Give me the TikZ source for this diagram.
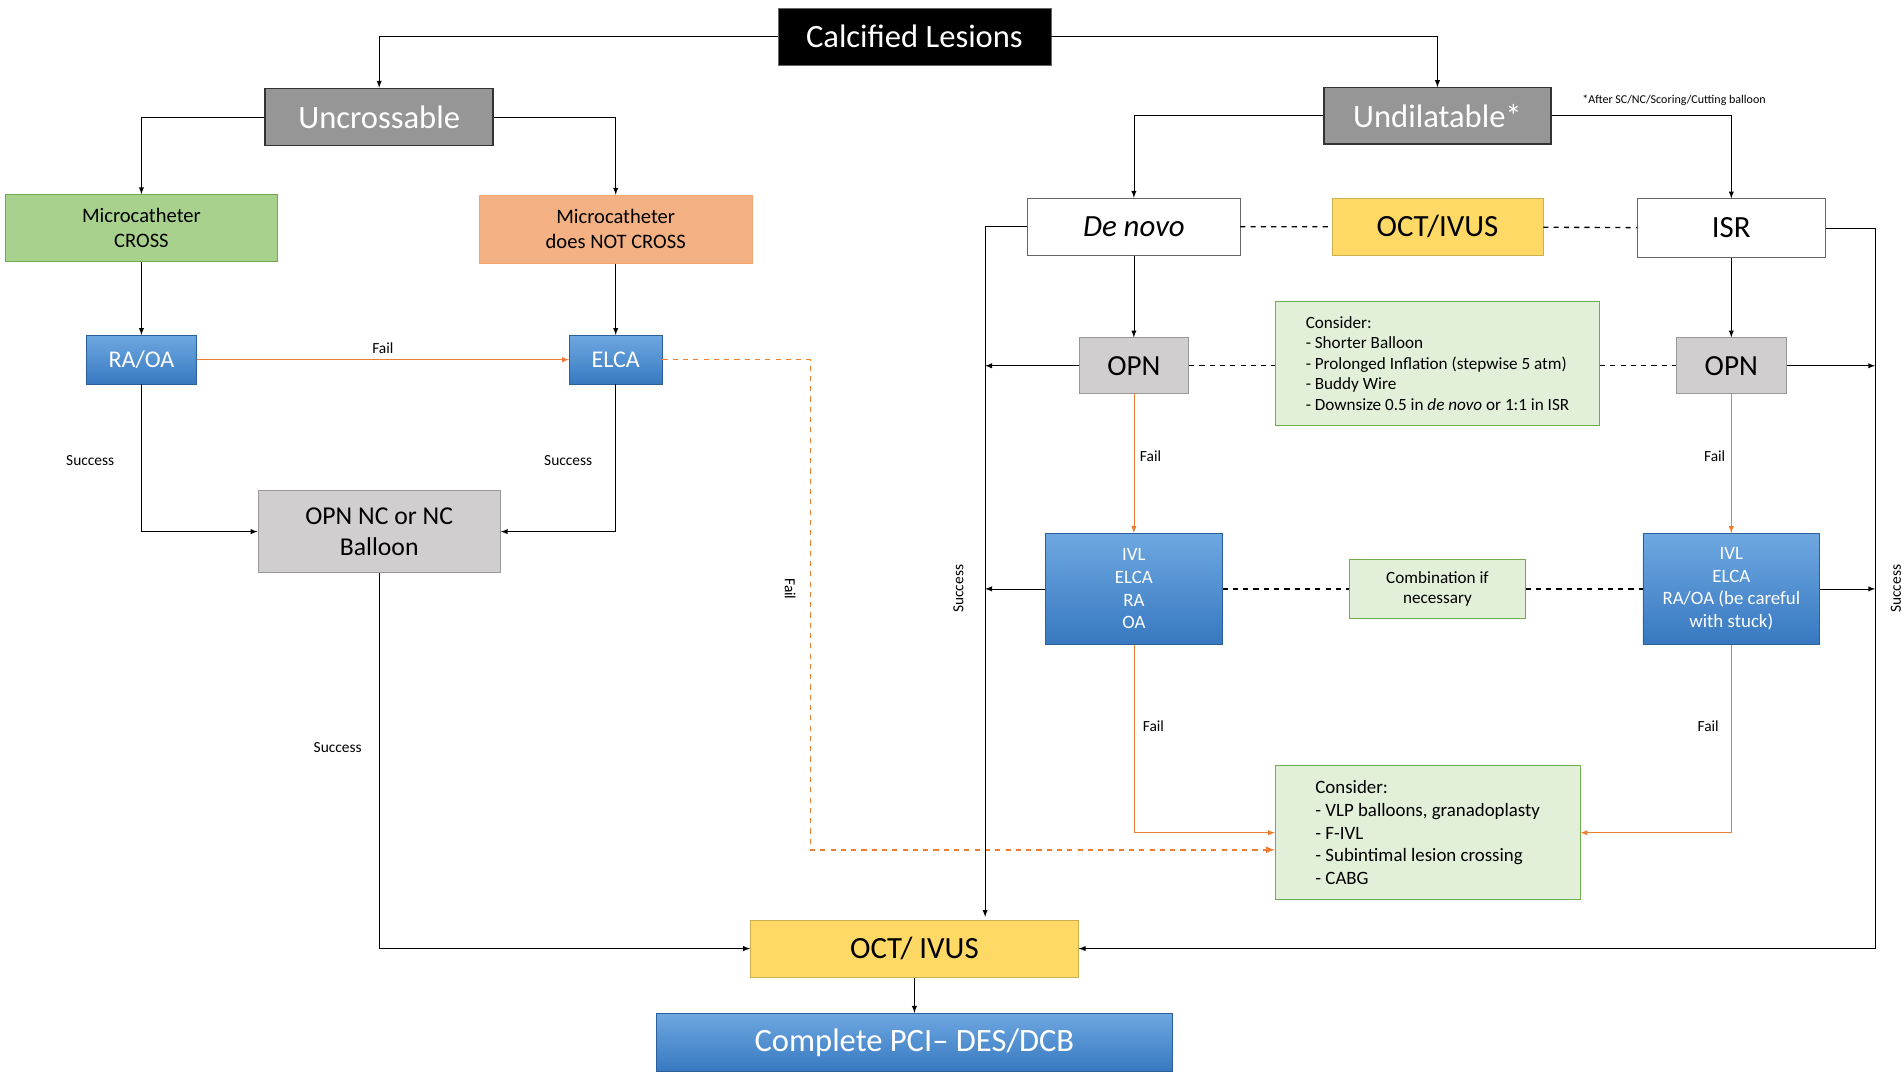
\documentclass[tikz,border=0pt]{standalone}
\usepackage{fontspec}
\setmainfont{Carlito}
\usetikzlibrary{positioning}
\definecolor{cgreen}{RGB}{169,209,142}
\definecolor{csalmon}{RGB}{244,177,131}
\definecolor{cyellow}{RGB}{255,217,102}
\definecolor{cgrey}{RGB}{208,206,206}
\definecolor{cdark}{RGB}{150,150,150}
\definecolor{clight}{RGB}{226,240,217}
\definecolor{cline}{RGB}{112,173,71}
\definecolor{corange}{RGB}{237,125,49}
\definecolor{cbluetop}{RGB}{110,168,225}
\definecolor{cbluebot}{RGB}{55,120,192}
\newcommand{\fs}[1]{\fontsize{#1}{1.2\dimexpr#1pt\relax}\selectfont}
\begin{document}
\begin{tikzpicture}[x=0.025cm,y=-0.025cm,
    box/.style = {draw=black!60, inner sep=0pt, align=center},
    bluebox/.style = {box, draw=cbluebot!80!black, top color=cbluetop, bottom color=cbluebot, text=white},
    greybox/.style = {box, fill=cgrey, draw=black!40},
    darkbox/.style = {box, fill=cdark, draw=black!80, thick, text=white, font=\fs{19}},
    notebox/.style = {box, fill=clight, draw=cline, align=left, font=\fs{10}, inner xsep=6pt},
    lbl/.style = {font=\fs{9}},
    arr/.style = {-latex, black},
    oarr/.style = {-latex, corange},
    dline/.style = {thick, dashed, black}]
    \useasboundingbox (0,0) rectangle (1560,882);
    % top level
    \node[box, fill=black, text=white, font=\fs{19}, minimum width=224*0.025cm, minimum height=47*0.025cm] (calc) at (750,30) {Calcified Lesions};
    \node[darkbox, minimum width=187*0.025cm, minimum height=47*0.025cm] (uncr) at (311,96) {Uncrossable};
    \node[darkbox, minimum width=186*0.025cm, minimum height=46*0.025cm] (undil) at (1179,95) {Undilatable*};
    \node[lbl, font=\fs{7}] (note) at (1373,82) {*After SC/NC/Scoring/Cutting balloon};
    % left branch
    \node[box, fill=cgreen, draw=cline, font=\fs{12}, minimum width=223*0.025cm, minimum height=55*0.025cm] (mcc) at (116,187) {Microcatheter\\CROSS};
    \node[box, fill=csalmon, draw=corange!70, font=\fs{12}, minimum width=224*0.025cm, minimum height=56*0.025cm] (mcn) at (505,188) {Microcatheter\\does NOT CROSS};
    \node[bluebox, font=\fs{14}, minimum width=90*0.025cm, minimum height=40*0.025cm] (raoa) at (116,295) {RA/OA};
    \node[bluebox, font=\fs{14}, minimum width=76*0.025cm, minimum height=40*0.025cm] (elca) at (505,295) {ELCA};
    \node[greybox, font=\fs{15}, minimum width=199*0.025cm, minimum height=67*0.025cm] (opnnc) at (311,436) {OPN NC or NC\\Balloon};
    % right branch
    \node[box, fill=white, font=\fs{18}\itshape, minimum width=174*0.025cm, minimum height=47*0.025cm] (denovo) at (930,186) {De novo};
    \node[box, fill=cyellow, draw=cyellow!80!black, font=\fs{18}, minimum width=173*0.025cm, minimum height=47*0.025cm] (octtop) at (1179,186) {OCT/IVUS};
    \node[box, fill=white, font=\fs{18}, minimum width=154*0.025cm, minimum height=48*0.025cm] (isr) at (1420,187) {ISR};
    \node[greybox, font=\fs{17}, minimum width=90*0.025cm, minimum height=46*0.025cm] (opnl) at (930,300) {OPN};
    \node[greybox, font=\fs{17}, minimum width=91*0.025cm, minimum height=46*0.025cm] (opnr) at (1420,300) {OPN};
    \node[notebox, minimum width=266*0.025cm, minimum height=101*0.025cm] (cons1) at (1179,298) {Consider:\\- Shorter Balloon\\- Prolonged Inflation (stepwise 5 atm)\\- Buddy Wire\\- Downsize 0.5 in \textit{de novo} or 1:1 in ISR};
    \node[bluebox, font=\fs{11}, minimum width=145*0.025cm, minimum height=91*0.025cm] (ivll) at (930,483) {IVL\\ELCA\\RA\\OA};
    \node[bluebox, font=\fs{11}, minimum width=145*0.025cm, minimum height=91*0.025cm] (ivlr) at (1420,483) {IVL\\ELCA\\RA/OA (be careful\\with stuck)};
    \node[notebox, align=center, minimum width=144*0.025cm, minimum height=48*0.025cm] (comb) at (1179,483) {Combination if\\necessary};
    \node[notebox, font=\fs{11}, minimum width=250*0.025cm, minimum height=110*0.025cm] (cons2) at (1171,683) {Consider:\\- VLP balloons, granadoplasty\\- F-IVL\\- Subintimal lesion crossing\\- CABG};
    % bottom
    \node[box, fill=cyellow, draw=cyellow!80!black, font=\fs{18}, minimum width=269*0.025cm, minimum height=47*0.025cm] (octbot) at (750,778) {OCT/ IVUS};
    \node[bluebox, font=\fs{19}, minimum width=423*0.025cm, minimum height=48*0.025cm] (pci) at (750,855) {Complete PCI-- DES/DCB};
    % free ends
    \coordinate (lend) at (808,752);
    \coordinate (lopn) at (808,300);
    \coordinate (livl) at (808,483);
    \coordinate (ropn) at (1538,300);
    \coordinate (rivl) at (1538,483);
    % connectors
    \draw[arr] (calc.west) -| (uncr.north);
    \draw[arr] (calc.east) -| (undil.north);
    \draw[arr] (uncr.west) -| (mcc.north);
    \draw[arr] (uncr.east) -| (mcn.north);
    \draw[arr] (undil.west) -| (denovo.north);
    \draw[arr] (undil.east) -| (isr.north);
    \draw[arr] (mcc) -- (raoa);
    \draw[arr] (mcn) -- (elca);
    \draw[oarr] (raoa) -- node[lbl, above, text=black] {Fail} (elca);
    \draw[arr] (raoa.south) |- (opnnc.west);
    \node[lbl] (s1) at (74,378) {Success};
    \draw[arr] (elca.south) |- (opnnc.east);
    \node[lbl] (s2) at (466,378) {Success};
    \draw[oarr, thick, dashed] (elca.east) -- (665,295) |- ([yshift=-14*0.025cm]cons2.west);
    \node[lbl, rotate=-90] (f1) at (648,483) {Fail};
    \draw[arr] (opnnc.south) |- (octbot.west);
    \node[lbl] (s3) at (277,613) {Success};
    \draw[arr] (denovo.west) -- (808,186) -- (lend);
    \node[lbl, rotate=90] (s4) at (786,483) {Success};
    \draw[dline] (denovo) -- (octtop) -- (isr);
    \draw[arr] (denovo) -- (opnl);
    \draw[arr] (isr) -- (opnr);
    \draw[arr] (opnl) -- (lopn);
    \draw[arr] (opnr) -- (ropn);
    \draw[dline] (opnl) -- (cons1.west |- opnl) (cons1.east |- opnr) -- (opnr);
    \draw[oarr] (opnl) -- node[lbl, right, text=black, pos=0.45] {Fail} (ivll);
    \draw[oarr] (opnr) -- node[lbl, left, text=black, pos=0.45] {Fail} (ivlr);
    \draw[arr] (ivll) -- (livl);
    \draw[arr] (ivlr) -- (rivl);
    \draw[dline] (ivll) -- (comb) -- (ivlr);
    \draw[oarr] (ivll.south) |- (cons2.west);
    \node[lbl] (f2) at (946,596) {Fail};
    \draw[oarr] (ivlr.south) |- (cons2.east);
    \node[lbl] (f3) at (1401,596) {Fail};
    \draw[arr] (isr.east) -- (1538,187) |- (octbot.east);
    \node[lbl, rotate=90] (s5) at (1555,483) {Success};
    \draw[arr] (octbot) -- (pci);
\end{tikzpicture}
\end{document}
